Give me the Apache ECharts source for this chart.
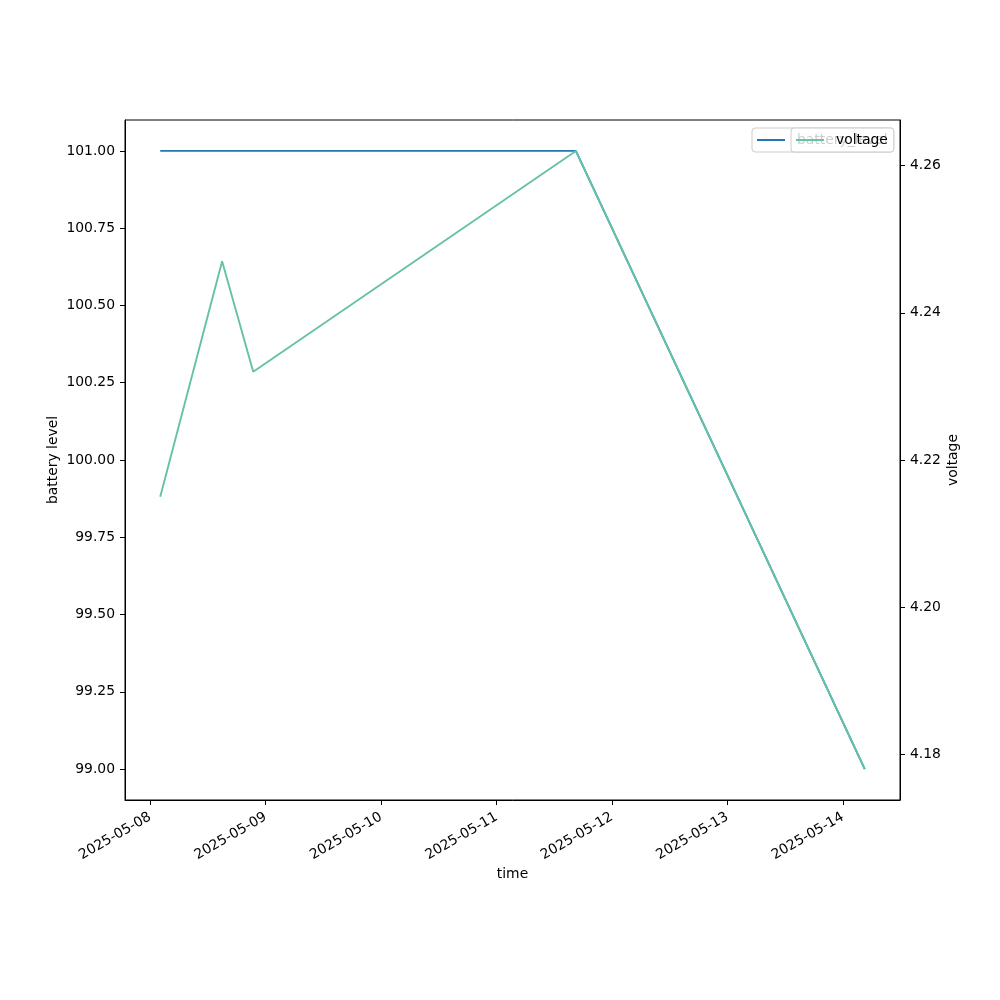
<!DOCTYPE html>
<html>
<head>
<meta charset="utf-8">
<script src="https://cdn.jsdelivr.net/npm/echarts@6/dist/echarts.min.js"></script>
<style>html,body{margin:0;padding:0;background:#fff;}#c{width:1000px;height:1000px;}</style>
</head>
<body>
<div id="c"></div>
<script>
const times = ['2025-05-08T02:05:00Z','2025-05-08T14:57:00Z','2025-05-08T21:25:00Z','2025-05-11T16:30:00Z','2025-05-14T04:34:00Z'];
const batteryLevel = [101, 101, 101, 101, 99];
const voltage = [4.215, 4.247, 4.232, 4.262, 4.178];
const xTickLabels = ['2025-05-08','2025-05-09','2025-05-10','2025-05-11','2025-05-12','2025-05-13','2025-05-14'];
const leftTicks = [99.00, 99.25, 99.50, 99.75, 100.00, 100.25, 100.50, 100.75, 101.00];
const rightTicks = [4.18, 4.20, 4.22, 4.24, 4.26];

const tms = times.map(t => new Date(t).getTime());
const xTickVals = xTickLabels.map(d => new Date(d + 'T00:00:00Z').getTime());
function pad(arr){ const mn=Math.min(...arr), mx=Math.max(...arr), m=(mx-mn)*0.05; return [mn-m, mx+m]; }
const xr = pad(tms), yl = pad(batteryLevel), yr = pad(voltage);
function fmtDate(v){ const d=new Date(v); const p=n=>String(n).padStart(2,'0'); return d.getUTCFullYear()+'-'+p(d.getUTCMonth()+1)+'-'+p(d.getUTCDate()); }

const FONT = 'DejaVu Sans';
const FS = 13.9;
const chart = echarts.init(document.getElementById('c'), null, {renderer:'canvas'});
const legendBase = {
  orient:'horizontal', top:128, itemWidth:28, itemHeight:2, icon:'rect',
  padding:[5,6,5,5], borderColor:'#cccccc', borderWidth:1, borderRadius:3,
  textStyle:{fontFamily:FONT, fontSize:FS, color:'#000', padding:[0,0,0,7]}
};
chart.setOption({
  animation:false,
  textStyle:{fontFamily:FONT},
  grid:{left:125, right:100, top:120, bottom:200, show:true, borderColor:'#000', borderWidth:1, containLabel:false},
  legend:[
    Object.assign({}, legendBase, {left:752, data:['battery_level'], backgroundColor:'#fff', z:4}),
    Object.assign({}, legendBase, {left:791, data:['voltage'], backgroundColor:'rgba(255,255,255,0.8)', z:6})
  ],
  xAxis:{
    type:'value', min:xr[0], max:xr[1], name:'time', nameLocation:'middle', nameGap:67, nameMoveOverlap:false,
    nameTextStyle:{fontFamily:FONT, fontSize:FS, color:'#000'},
    axisLine:{show:true, lineStyle:{color:'#000', width:1}},
    axisTick:{show:true, length:5, customValues:xTickVals, lineStyle:{color:'#000'}},
    axisLabel:{customValues:xTickVals, rotate:30, margin:16, fontFamily:FONT, fontSize:FS, color:'#000', formatter:fmtDate},
    splitLine:{show:false}
  },
  yAxis:[
    {type:'value', position:'left', min:yl[0], max:yl[1], name:'battery level', nameLocation:'middle', nameRotate:90, nameGap:65, nameMoveOverlap:false,
     nameTextStyle:{fontFamily:FONT, fontSize:FS, color:'#000'},
     axisLine:{show:true, lineStyle:{color:'#000'}},
     axisTick:{show:true, length:5, customValues:leftTicks, lineStyle:{color:'#000'}},
     axisLabel:{customValues:leftTicks, margin:10, fontFamily:FONT, fontSize:FS, color:'#000', formatter:v=>v.toFixed(2)},
     splitLine:{show:false}},
    {type:'value', position:'right', min:yr[0], max:yr[1], name:'voltage', nameLocation:'middle', nameRotate:90, nameGap:46, nameMoveOverlap:false,
     nameTextStyle:{fontFamily:FONT, fontSize:FS, color:'#000'},
     axisLine:{show:true, lineStyle:{color:'#000'}},
     axisTick:{show:true, length:5, customValues:rightTicks, lineStyle:{color:'#000'}},
     axisLabel:{customValues:rightTicks, margin:10, fontFamily:FONT, fontSize:FS, color:'#000', formatter:v=>v.toFixed(2)},
     splitLine:{show:false}}
  ],
  series:[
    {name:'battery_level', type:'line', yAxisIndex:0, showSymbol:false, symbol:'none', color:'#1f77b4',
     lineStyle:{width:1.9, color:'#1f77b4'}, data:tms.map((t,i)=>[t,batteryLevel[i]]), z:2},
    {name:'voltage', type:'line', yAxisIndex:1, showSymbol:false, symbol:'none', color:'#66c2a5',
     lineStyle:{width:1.9, color:'#66c2a5'}, data:tms.map((t,i)=>[t,voltage[i]]), z:3}
  ]
});
</script>
</body>
</html>
